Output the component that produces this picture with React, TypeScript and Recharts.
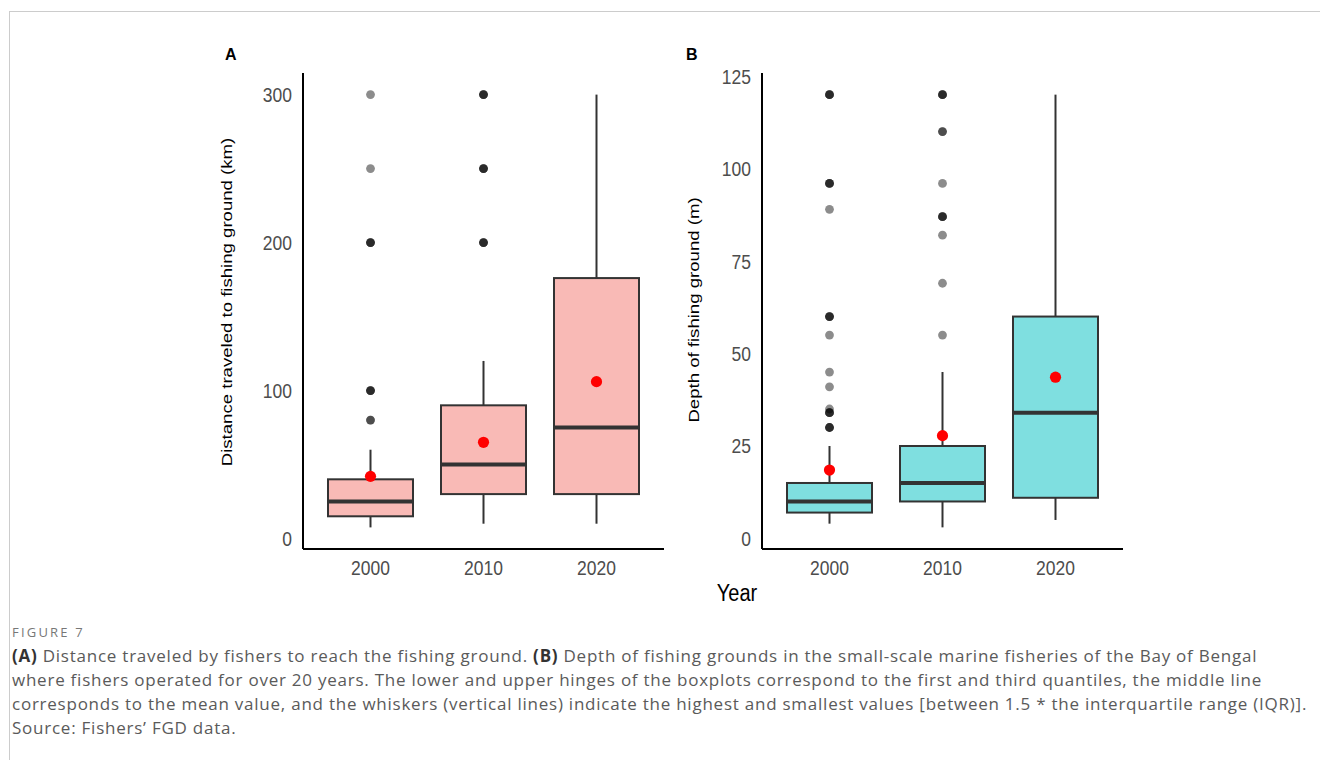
import { Bar, ComposedChart, Scatter, XAxis, YAxis } from "recharts";

const FONT = "'Liberation Sans', Arial, Helvetica, sans-serif";
const CAPTION_FONT = "'Open Sans', 'Noto Sans', sans-serif";

const years = ["2000", "2010", "2020"];

// Panel A: distance travelled to fishing ground (km)
const distLow = [7.5, 10, 10];
const distQ1 = [15, 30, 30];
const distMedian = [25, 50, 75];
const distQ3 = [40, 90, 176];
const distHigh = [60, 120, 300];
const distMean = [42, 65, 106];
// repeated values = overlapping fishers' answers (darker dots)
const distOutliers = [
  [300, 250, 200, 200, 200, 100, 100, 100, 80, 80],
  [300, 300, 300, 250, 250, 250, 200, 200, 200],
  [],
];
const distTicks = [0, 100, 200, 300];

// Panel B: depth of fishing ground (m)
const depthLow = [4, 3, 5];
const depthQ1 = [7, 10, 11];
const depthMedian = [10, 15, 34];
const depthQ3 = [15, 25, 60];
const depthHigh = [25, 45, 120];
const depthMean = [18.5, 27.8, 43.6];
const depthOutliers = [
  [120, 120, 120, 96, 96, 96, 89, 60, 60, 60, 55, 45, 41, 35, 34, 34, 34, 30, 30, 30],
  [120, 120, 120, 110, 110, 96, 87, 87, 87, 82, 69, 55],
  [],
];
const depthTicks = [0, 25, 50, 75, 100, 125];

const captionLines = [
  "(A) Distance traveled by fishers to reach the fishing ground. (B) Depth of fishing grounds in the small-scale marine fisheries of the Bay of Bengal",
  "where fishers operated for over 20 years. The lower and upper hinges of the boxplots correspond to the first and third quantiles, the middle line",
  "corresponds to the mean value, and the whiskers (vertical lines) indicate the highest and smallest values [between 1.5 * the interquartile range (IQR)].",
  "Source: Fishers\u2019 FGD data.",
];

const EDGE = "#333333";
// the source figure is slightly stretched vertically
const STRETCH = 1.2;

const Empty = () => <g />;

const Whisker = (props: any) => {
  const { x, y, width, height } = props;
  const cx = x + width / 2;
  return <line x1={cx} x2={cx} y1={y} y2={y + height} stroke={EDGE} strokeWidth={2} />;
};

const makeBox = (fill: string, withMedian: boolean) => (props: any) => {
  const { x, y, width, height } = props;
  return (
    <g>
      <rect x={x} y={y} width={width} height={height} fill={fill} stroke={EDGE} strokeWidth={2} />
      {withMedian && (
        <line x1={x} x2={x + width} y1={y + height} y2={y + height} stroke={EDGE} strokeWidth={4} />
      )}
    </g>
  );
};

const Outlier = (props: any) => (
  <circle cx={props.cx} cy={props.cy} r={4.4} fill="#000" fillOpacity={0.45} />
);

const MeanDot = (props: any) => <circle cx={props.cx} cy={props.cy} r={5.6} fill="#FF0000" />;

const XTick = (props: any) => (
  <text
    transform={`translate(${props.x} ${props.y}) scale(1 ${STRETCH})`}
    textAnchor="middle"
    dy="0.71em"
    fontSize={17.5}
    fontFamily={FONT}
    fill="#4d4d4d"
  >
    {props.payload.value}
  </text>
);

const YTick = (props: any) => (
  <text
    transform={`translate(${props.x} ${props.y}) scale(1 ${STRETCH})`}
    textAnchor="end"
    dy="0.355em"
    fontSize={17.5}
    fontFamily={FONT}
    fill="#4d4d4d"
  >
    {props.payload.value}
  </text>
);

const titleContent = (value: string, offset: number, shift: number) => (props: any) => {
  const vb = props.viewBox;
  const x = vb.x + offset;
  const y = vb.y + vb.height / 2 + shift;
  return (
    <text
      transform={`translate(${x} ${y}) rotate(-90) scale(${STRETCH} 1)`}
      textAnchor="middle"
      dominantBaseline="central"
      fontSize={15.5}
      fontFamily={FONT}
      fill="#000"
    >
      {value}
    </text>
  );
};

interface PanelProps {
  left: number;
  yAxisWidth: number;
  low: number[];
  q1: number[];
  median: number[];
  q3: number[];
  high: number[];
  mean: number[];
  outliers: number[][];
  domain: [number, number];
  ticks: number[];
  title: string;
  titleOffset: number;
  titleShift: number;
  fill: string;
}

function BoxPanel(p: PanelProps) {
  const rows = years.map((year, i) => ({
    year,
    base: p.low[i],
    whiskerLow: p.q1[i] - p.low[i],
    boxLow: p.median[i] - p.q1[i],
    boxHigh: p.q3[i] - p.median[i],
    whiskerHigh: p.high[i] - p.q3[i],
  }));
  const outlierPoints = years.flatMap((year, i) => p.outliers[i].map((value) => ({ year, value })));
  const meanPoints = years.map((year, i) => ({ year, value: p.mean[i] }));
  const axisLine = { stroke: "#000", strokeWidth: 2 };

  return (
    <div style={{ position: "absolute", left: p.left, top: 40 }}>
      <ComposedChart
        width={480}
        height={580}
        data={rows}
        margin={{ top: 33, right: 480 - p.yAxisWidth - 361, bottom: 0, left: 0 }}
      >
        <XAxis
          dataKey="year"
          allowDuplicatedCategory={false}
          padding={{ left: 11, right: 11 }}
          tickLine={false}
          axisLine={axisLine}
          tick={XTick}
          tickMargin={5}
          height={71}
        />
        <YAxis
          type="number"
          domain={p.domain}
          ticks={p.ticks}
          allowDataOverflow
          width={p.yAxisWidth}
          tickLine={false}
          axisLine={axisLine}
          tick={YTick}
          tickMargin={5}
          label={{ content: titleContent(p.title, p.titleOffset, p.titleShift) }}
        />
        <Bar dataKey="base" stackId="box" barSize={85} shape={Empty} isAnimationActive={false} />
        <Bar dataKey="whiskerLow" stackId="box" barSize={85} shape={Whisker} isAnimationActive={false} />
        <Bar dataKey="boxLow" stackId="box" barSize={85} shape={makeBox(p.fill, false)} isAnimationActive={false} />
        <Bar dataKey="boxHigh" stackId="box" barSize={85} shape={makeBox(p.fill, true)} isAnimationActive={false} />
        <Bar dataKey="whiskerHigh" stackId="box" barSize={85} shape={Whisker} isAnimationActive={false} />
        <Scatter data={outlierPoints} dataKey="value" shape={Outlier} isAnimationActive={false} />
        <Scatter data={meanPoints} dataKey="value" shape={MeanDot} isAnimationActive={false} />
      </ComposedChart>
    </div>
  );
}

function CaptionLine({ text }: { text: string }) {
  const parts = text.split(/(\([AB]\))/);
  return (
    <div style={{ whiteSpace: "nowrap" }}>
      {parts.map((part, i) =>
        /^\([AB]\)$/.test(part) ? (
          <b key={i} style={{ color: "#333" }}>
            {part}
          </b>
        ) : (
          <span key={i}>{part}</span>
        )
      )}
    </div>
  );
}

export default function App() {
  return (
    <div
      style={{
        position: "absolute",
        left: 0,
        top: 0,
        width: 1320,
        height: 760,
        overflow: "hidden",
        background: "#fff",
      }}
    >
      <div
        style={{
          position: "absolute",
          left: 9,
          top: 11,
          width: 1400,
          height: 900,
          border: "1px solid #cccccc",
        }}
      />
      <BoxPanel
        left={200}
        yAxisWidth={103}
        low={distLow}
        q1={distQ1}
        median={distMedian}
        q3={distQ3}
        high={distHigh}
        mean={distMean}
        outliers={distOutliers}
        domain={[-7.1, 314.6]}
        ticks={distTicks}
        title="Distance traveled to fishing ground (km)"
        titleOffset={27}
        titleShift={-9}
        fill="#F9BAB6"
      />
      <BoxPanel
        left={660}
        yAxisWidth={102}
        low={depthLow}
        q1={depthQ1}
        median={depthMedian}
        q3={depthQ3}
        high={depthHigh}
        mean={depthMean}
        outliers={depthOutliers}
        domain={[-2.85, 125.85]}
        ticks={depthTicks}
        title="Depth of fishing ground (m)"
        titleOffset={34}
        titleShift={-1}
        fill="#7FDFE0"
      />
      <svg
        width={1320}
        height={760}
        style={{ position: "absolute", left: 0, top: 0, pointerEvents: "none" }}
      >
        <text x={225} y={60} fontSize={16} fontWeight="bold" fontFamily={FONT} fill="#000">
          A
        </text>
        <text x={686} y={60} fontSize={16} fontWeight="bold" fontFamily={FONT} fill="#000">
          B
        </text>
        <text
          transform={`translate(737 601) scale(1 1.15)`}
          fontSize={20}
          textAnchor="middle"
          fontFamily={FONT}
          fill="#000"
        >
          Year
        </text>
      </svg>
      <div
        style={{
          position: "absolute",
          left: 12,
          top: 623,
          fontFamily: CAPTION_FONT,
          fontSize: 13,
          lineHeight: "18px",
          color: "#777",
          letterSpacing: 2.2,
        }}
      >
        FIGURE 7
      </div>
      <div
        style={{
          position: "absolute",
          left: 12,
          top: 644,
          fontFamily: CAPTION_FONT,
          fontSize: 17,
          lineHeight: "24px",
          color: "#5a5a5a",
          letterSpacing: 0.76,
        }}
      >
        {captionLines.map((line, i) => (
          <CaptionLine key={i} text={line} />
        ))}
      </div>
    </div>
  );
}
